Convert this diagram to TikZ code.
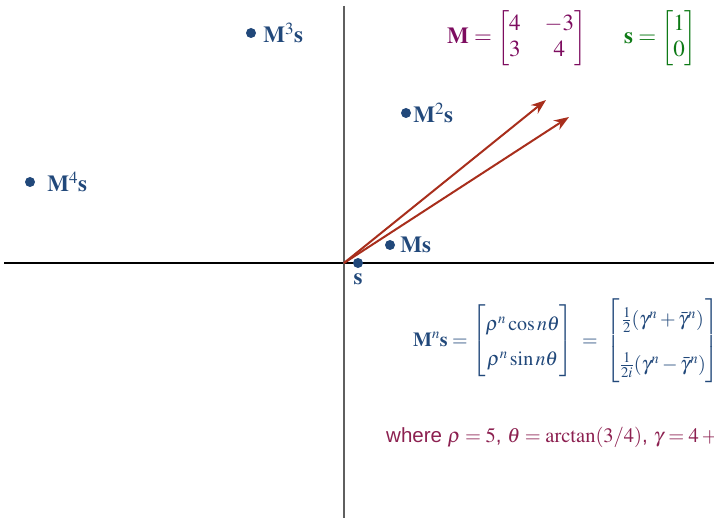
\documentclass[tikz,border=0pt]{standalone}
\usepackage{amsmath}
\usepackage{mathptmx}
\usepackage{fontspec}
\setmainfont{Liberation Serif}
\setsansfont{Liberation Sans}
\usepackage{tikz}
\usetikzlibrary{positioning, arrows.meta}
\definecolor{iterblue}{RGB}{33,72,122}
\definecolor{vecred}{RGB}{168,46,28}
\definecolor{matpurple}{RGB}{125,12,95}
\definecolor{vecgreen}{RGB}{14,122,22}
\definecolor{notemaroon}{RGB}{140,32,80}
\definecolor{axisgray}{RGB}{95,95,95}
\tikzset{
  iterdot/.style  = {circle, fill=iterblue, inner sep=0pt, minimum size=10pt},
  iterlabel/.style = {text=iterblue, inner sep=0pt, font=\fontsize{23}{26}\selectfont},
  vec/.style      = {-{Stealth[length=15pt, width=11pt]}, vecred, line width=2pt},
  formula/.style  = {anchor=west, inner sep=0pt, font=\fontsize{23}{26}\selectfont},
}

\begin{document}
\begin{tikzpicture}[x=1pt, y=-1pt]
    \useasboundingbox (0,0) rectangle (714,518);
    \clip (0,0) rectangle (714,518);

    % axes
    \coordinate (O) at (344,263);
    \coordinate (xl) at (4,263);
    \coordinate (xr) at (714,263);
    \coordinate (yt) at (344,6);
    \coordinate (yb) at (344,518);
    \draw[black, line width=1.2pt] (xl) -- (xr);
    \draw[axisgray, line width=1.2pt] (yt) -- (yb);

    % eigen-ish directions
    \coordinate (v1) at (546,100);
    \coordinate (v2) at (569,117);
    \draw[vec] (O) -- (v1);
    \draw[vec] (O) -- (v2);

    % iterates M^n s
    \node[iterdot] (p0) at (358,263) {};
    \node[iterdot] (p1) at (390,245) {};
    \node[iterdot] (p2) at (406,113) {};
    \node[iterdot] (p3) at (251,33)  {};
    \node[iterdot] (p4) at (30,182)  {};

    \node[iterlabel, below=5pt of p0]  (l0) {$\mathbf{s}$};
    \node[iterlabel, right=5pt of p1]  (l1) {$\mathbf{M}\mathbf{s}$};
    \node[iterlabel, right=2pt of p2]  (l2) {$\mathbf{M}^2\mathbf{s}$};
    \node[iterlabel, right=7pt of p3]  (l3) {$\mathbf{M}^3\mathbf{s}$};
    \node[iterlabel, right=12pt of p4] (l4) {$\mathbf{M}^4\mathbf{s}$};

    % definitions
    \node[formula, text=matpurple] (Mdef) at (447,38)
      {$\setlength\arraycolsep{12pt}\mathbf{M} = \begin{bmatrix} 4 & -3\\ 3 & 4\end{bmatrix}$};
    \node[formula, text=vecgreen] (sdef) at (624,38)
      {$\mathbf{s} = \begin{bmatrix} 1\\ 0\end{bmatrix}$};

    % closed form
    \node[formula, text=iterblue, font=\fontsize{20}{24}\selectfont] (closed) at (413,341)
      {$\renewcommand\arraystretch{1.45}\mathbf{M}^n\mathbf{s} = \begin{bmatrix}\rho^n\cos n\theta\\ \rho^n\sin n\theta\end{bmatrix}
        \;=\; \begin{bmatrix}\frac{1}{2}(\gamma^n+\bar{\gamma}^n)\\[10pt] \frac{1}{2i}(\gamma^n-\bar{\gamma}^n)\end{bmatrix}$};

    \node[formula, text=notemaroon, font=\fontsize{20.5}{24}\selectfont] (where) at (386,437)
      {\sffamily where $\rho=5$, $\theta=\arctan(3/4)$, $\gamma=4+3i$};
\end{tikzpicture}
\end{document}
